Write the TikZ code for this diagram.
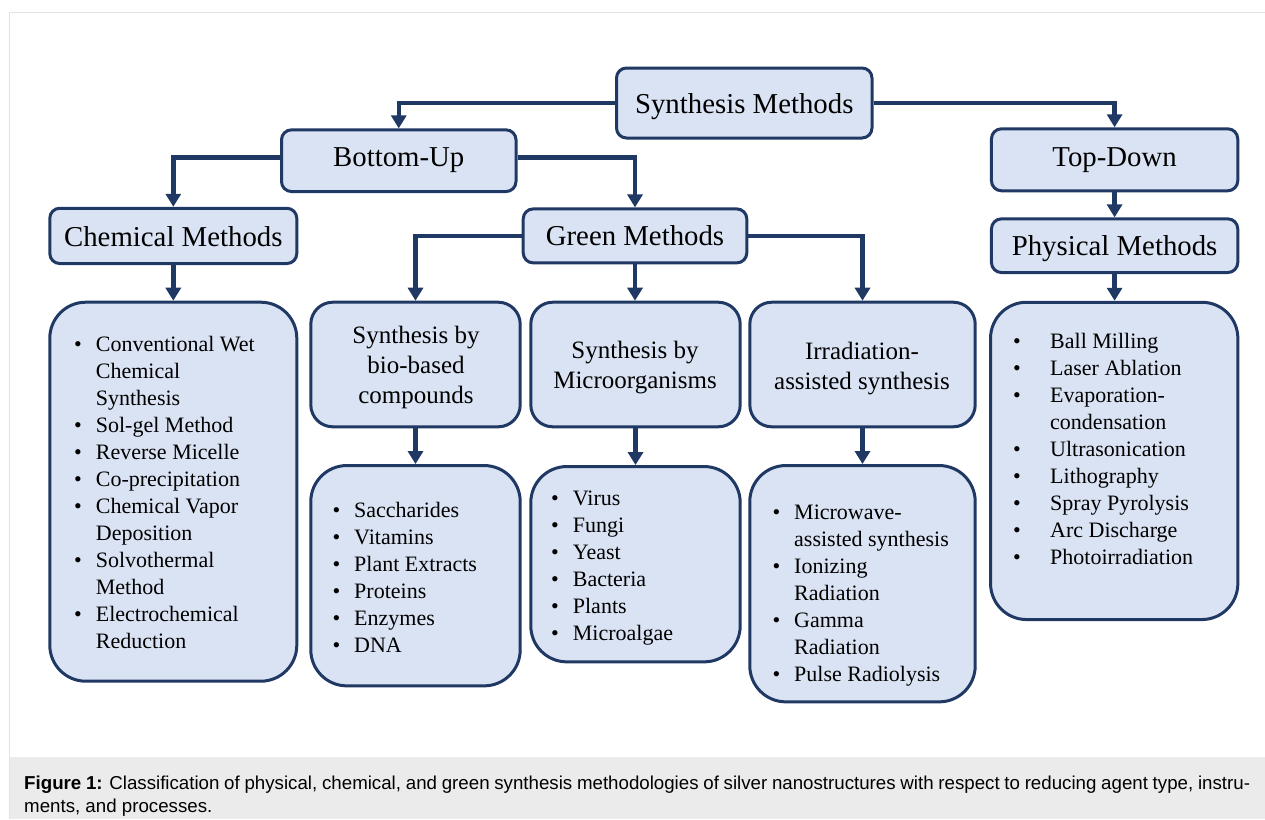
\documentclass[tikz,border=0pt]{standalone}
\usepackage{fontspec}
\setmainfont{Liberation Serif}
\newfontfamily\capfont{Liberation Sans}
\usetikzlibrary{arrows.meta}
\definecolor{navy}{HTML}{1F3864}
\definecolor{boxfill}{HTML}{DAE3F3}
\definecolor{capbg}{HTML}{EBEBEB}
\definecolor{framegray}{HTML}{E2E2E2}
\newlength{\bulgap}
\setlength{\bulgap}{14pt}
\newcommand{\bitem}[1]{\hbox{\llap{\textbullet\hskip\bulgap}#1}}
\newcommand{\cont}[1]{\hbox{#1}}
\newcommand{\ctrlines}[2]{\vtop{\baselineskip=#1\halign{\hfil##\hfil\cr #2\crcr}}}
\tikzset{
  box/.style={draw=navy, fill=boxfill, line width=3pt, rectangle, inner sep=0pt},
  smallbox/.style={box, rounded corners=10pt},
  midbox/.style={box, rounded corners=22pt},
  listbox/.style={box, rounded corners=36pt},
  hdr/.style={inner sep=0pt, anchor=base, font=\fontsize{28.8}{34}\selectfont},
  subhdr/.style={inner sep=0pt, anchor=base, font=\fontsize{25}{30}\selectfont},
  listtxt/.style={inner sep=0pt, anchor=base west, font=\fontsize{22}{27}\selectfont},
  conn/.style={draw=navy, line width=4.5pt, -{Triangle[width=15pt,length=13pt]}},
  captxt/.style={inner sep=0pt, anchor=base west, font=\capfont\fontsize{18.7}{23}\selectfont},
}
\begin{document}
\begin{tikzpicture}[x=1pt,y=-1pt]
\useasboundingbox (0,0) rectangle (1265,819);
% frame and caption band
\fill[capbg] (9,757) rectangle (1265,819);
\draw[framegray, line width=1pt] (9,819) -- (9,12) -- (1265,12);

% boxes
\node[smallbox, minimum width=255.5pt, minimum height=70pt] (syn) at (744.25,103) {};
\node[smallbox, minimum width=234.5pt, minimum height=61.7pt] (bu) at (398.75,160.7) {};
\node[smallbox, minimum width=246.3pt, minimum height=62pt] (td) at (1114.6,159.8) {};
\node[smallbox, minimum width=247pt, minimum height=55.3pt] (chem) at (173.3,235.9) {};
\node[smallbox, minimum width=223.6pt, minimum height=54pt] (green) at (635,235.9) {};
\node[smallbox, minimum width=246.3pt, minimum height=53.7pt] (phys) at (1114.6,245.7) {};

\node[midbox, minimum width=209.4pt, minimum height=124.6pt] (bio) at (415.5,364.5) {};
\node[midbox, minimum width=209.4pt, minimum height=124.6pt] (micro) at (635.5,364.5) {};
\node[midbox, minimum width=225.4pt, minimum height=124.6pt] (irr) at (862.5,364.5) {};

\node[listbox, minimum width=247pt, minimum height=379pt] (chemlist) at (173.3,491.7) {};
\node[listbox, minimum width=209.4pt, minimum height=220.3pt] (biolist) at (415.5,575.7) {};
\node[listbox, minimum width=209.4pt, minimum height=195.3pt] (microlist) at (635.5,564.2) {};
\node[listbox, minimum width=225.4pt, minimum height=236.3pt] (irrlist) at (862.5,583.7) {};
\node[listbox, minimum width=247.3pt, minimum height=317.3pt] (physlist) at (1114.2,460.9) {};

% connectors
\draw[conn] (syn.west) -| (bu.north);
\draw[conn] (syn.east) -| (td.north);
\draw[conn] ([yshift=3.4pt]bu.west) -| (chem.north);
\draw[conn] ([yshift=3.4pt]bu.east) -| (green.north);
\draw[conn] (green.west) -| (bio.north);
\draw[conn] (green.east) -| (irr.north);
\draw[conn] (green.south) -- (green.south |- micro.north);
\draw[conn] (chem.south) -- (chemlist.north);
\draw[conn] (td.south) -- (phys.north);
\draw[conn] (phys.south) -- (phys.south |- physlist.north);
\draw[conn] (bio.south) -- (biolist.north);
\draw[conn] (micro.south) -- (microlist.north);
\draw[conn] (irr.south) -- (irrlist.north);

% header texts
\node[hdr] (syn-t) at (744.25,113.3) {Synthesis Methods};
\node[hdr] (bu-t) at (398.75,166.7) {Bottom-Up};
\node[hdr] (td-t) at (1114.6,166) {Top-Down};
\node[hdr] (chem-t) at (173.3,246.7) {Chemical Methods};
\node[hdr] (green-t) at (635,245.3) {Green Methods};
\node[hdr] (phys-t) at (1114.6,255) {Physical Methods};

\node[subhdr] (bio-t) at (416,343.3) {\ctrlines{30pt}{Synthesis by\cr bio-based\cr compounds}};
\node[subhdr] (micro-t) at (635,358.3) {\ctrlines{30pt}{Synthesis by\cr Microorganisms}};
\node[subhdr] (irr-t) at (862,359) {\ctrlines{30pt}{Irradiation-\cr assisted synthesis}};

% lists
\node[listtxt] (chem-l) at (95.7,351.7) {\vtop{\baselineskip=27pt
  \bitem{Conventional Wet}\cont{Chemical}\cont{Synthesis}
  \bitem{Sol-gel Method}\bitem{Reverse Micelle}\bitem{Co-precipitation}
  \bitem{Chemical Vapor}\cont{Deposition}
  \bitem{Solvothermal}\cont{Method}
  \bitem{Electrochemical}\cont{Reduction}}};
\node[listtxt] (bio-l) at (354,517) {\vtop{\baselineskip=27pt
  \bitem{Saccharides}\bitem{Vitamins}\bitem{Plant Extracts}
  \bitem{Proteins}\bitem{Enzymes}\bitem{DNA}}};
\node[listtxt] (micro-l) at (572.7,505) {\vtop{\baselineskip=27pt
  \bitem{Virus}\bitem{Fungi}\bitem{Yeast}
  \bitem{Bacteria}\bitem{Plants}\bitem{Microalgae}}};
\node[listtxt] (irr-l) at (794,519.3) {\vtop{\baselineskip=27pt
  \bitem{Microwave-}\cont{assisted synthesis}
  \bitem{Ionizing}\cont{Radiation}
  \bitem{Gamma}\cont{Radiation}
  \bitem{Pulse Radiolysis}}};
\node[listtxt] (phys-l) at (1050,348.3) {\setlength{\bulgap}{29.5pt}\vtop{\baselineskip=27pt
  \bitem{Ball Milling}\bitem{Laser Ablation}
  \bitem{Evaporation-}\cont{condensation}
  \bitem{Ultrasonication}\bitem{Lithography}\bitem{Spray Pyrolysis}
  \bitem{Arc Discharge}\bitem{Photoirradiation}}};

% caption
\node[captxt] (cap1) at (24,789) {\hbox to 1226pt{\textbf{Figure 1:} Classification of physical, chemical, and green synthesis methodologies of silver nanostructures with respect to reducing agent type, instru-}};
\node[captxt] (cap2) at (24,812) {ments, and processes.};
\end{tikzpicture}
\end{document}
